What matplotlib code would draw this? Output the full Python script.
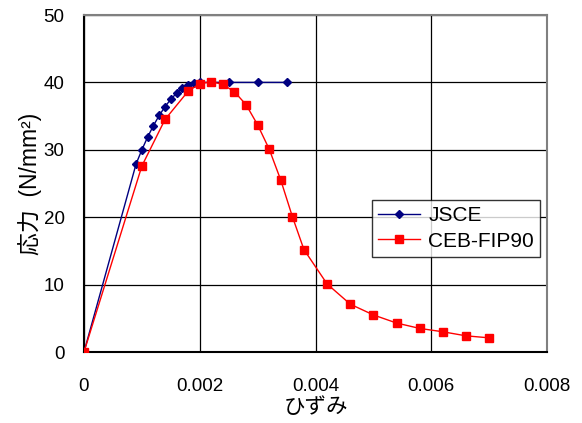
import matplotlib.pyplot as plt

plt.rcParams['font.family'] = ['Liberation Sans', 'Noto Sans CJK JP', 'DejaVu Sans']

# JSCE model curve
jsce_strain = [0, 0.0009, 0.001, 0.0011, 0.0012, 0.0013, 0.0014, 0.0015, 0.0016,
               0.0017, 0.0018, 0.0019, 0.002, 0.0025, 0.003, 0.0035]
jsce_stress = [0, 27.9, 30.0, 31.9, 33.6, 35.1, 36.4, 37.5, 38.4,
               39.1, 39.6, 39.9, 40.0, 40.0, 40.0, 40.0]

# CEB-FIP90 model curve
ceb_strain = [0, 0.001, 0.0014, 0.0018, 0.002, 0.0022, 0.0024, 0.0026, 0.0028,
              0.003, 0.0032, 0.0034, 0.0036, 0.0038, 0.0042, 0.0046, 0.005,
              0.0054, 0.0058, 0.0062, 0.0066, 0.007]
ceb_stress = [0, 27.6, 34.5, 38.7, 39.8, 40.1, 39.7, 38.6, 36.7,
              33.7, 30.1, 25.5, 20.1, 15.2, 10.1, 7.1, 5.5,
              4.3, 3.5, 3.0, 2.4, 2.1]

xticks = [0, 0.002, 0.004, 0.006, 0.008]
xticklabels = ['0', '0.002', '0.004', '0.006', '0.008']
yticks = [0, 10, 20, 30, 40, 50]

fig = plt.figure(figsize=(5.82, 4.23), dpi=100)
ax = fig.add_axes([84 / 582, 1 - 352 / 423, 463 / 582, 337 / 423])

ax.plot(jsce_strain, jsce_stress, color='#000080', marker='D', markersize=4,
        linewidth=1, label='JSCE', zorder=3)
ax.plot(ceb_strain, ceb_stress, color='#ff0000', marker='s', markersize=6,
        linewidth=1, label='CEB-FIP90', zorder=3)

ax.set_xlim(0, 0.008)
ax.set_ylim(0, 50)
ax.set_xticks(xticks)
ax.set_xticklabels(xticklabels)
ax.set_yticks(yticks)
ax.tick_params(length=0, labelsize=13.5)
ax.tick_params(axis='x', pad=19)
ax.tick_params(axis='y', pad=14)
ax.grid(True, color='black', linewidth=0.9)
ax.set_axisbelow(True)

for side in ['top', 'right']:
    ax.spines[side].set_color('#808080')
    ax.spines[side].set_linewidth(1.5)
for side in ['left', 'bottom']:
    ax.spines[side].set_color('black')
    ax.spines[side].set_linewidth(1.5)

ax.set_xlabel('ひずみ', fontsize=15.5, labelpad=1)
ax.set_ylabel('応力  (N/mm²)', fontsize=16.5, labelpad=1)

leg = ax.legend(loc='upper left', bbox_to_anchor=(0.622, 0.451), fontsize=15,
                frameon=True, fancybox=False, edgecolor='black',
                borderpad=0.3, borderaxespad=0, handlelength=2.0,
                handletextpad=0.4, labelspacing=0.3)
leg.get_frame().set_linewidth(1)

fig.savefig('out.png', dpi=100)
